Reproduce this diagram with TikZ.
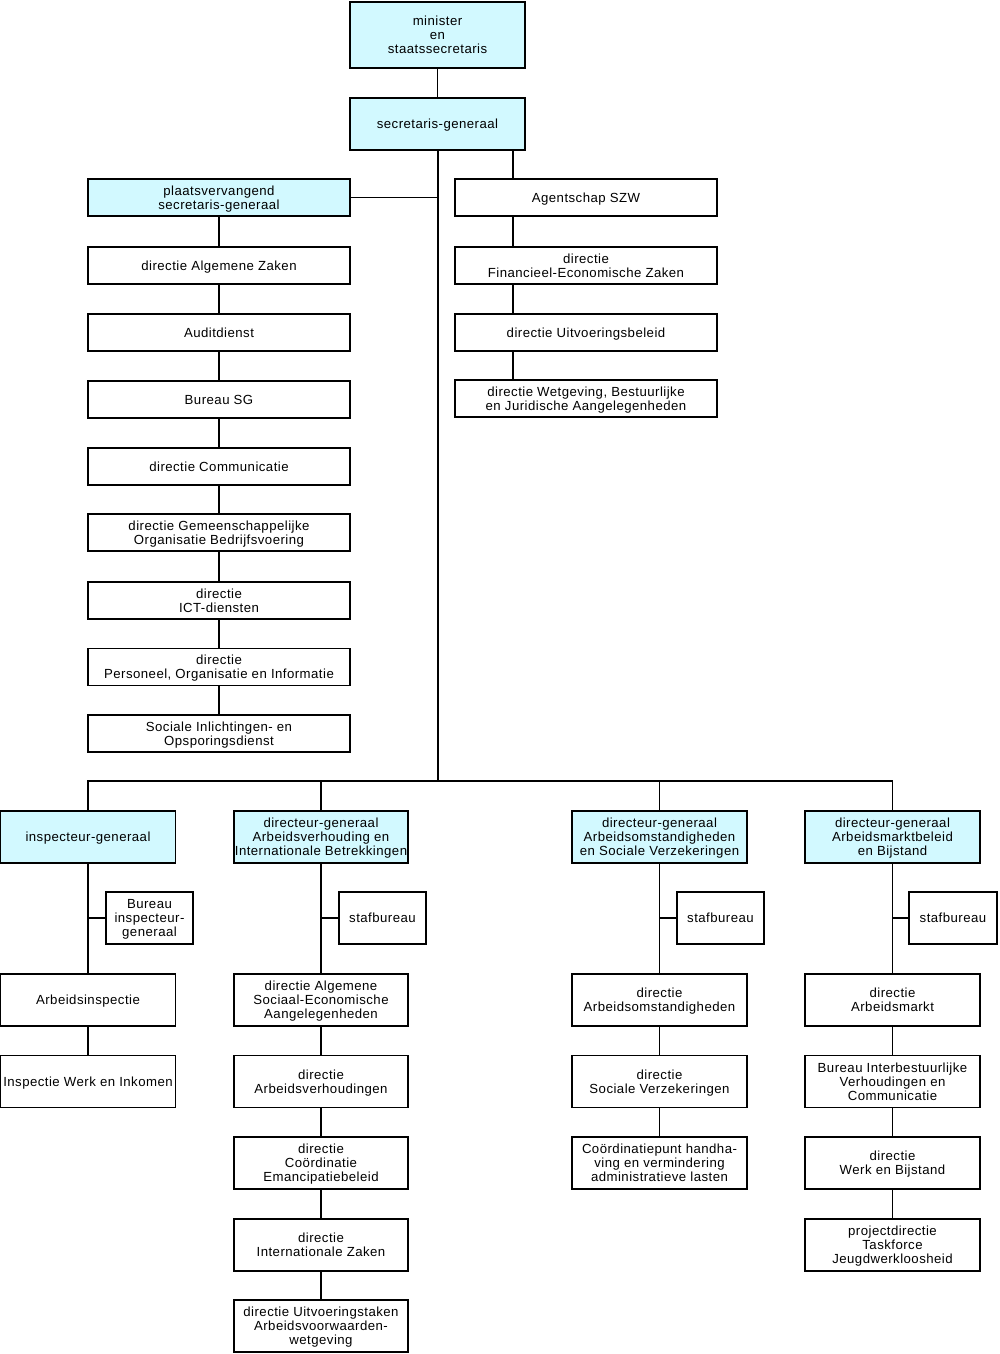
\documentclass[tikz,border=0pt]{standalone}
\usepackage{fontspec}
\setmainfont{Liberation Sans}[LetterSpace=3.5]
\definecolor{headcyan}{RGB}{210,249,255}
\newcommand\orgfont{\fontsize{13.2}{14}\selectfont}
\begin{document}
\begin{tikzpicture}[x=1pt,y=-1pt,font=\orgfont,line join=miter,
	box/.style={draw,line width=1.8pt,inner sep=0pt,align=center,fill=white,text depth=0pt},
	head/.style={box,fill=headcyan},
	wbox/.style={box,minimum width=262pt,minimum height=37pt},
	cbox/.style={box,minimum width=175pt,minimum height=52pt},
	sbox/.style={box,minimum width=87pt,minimum height=52pt},
	link/.style={line width=1.8pt}]
	\useasboundingbox (0,0) rectangle (999,1354);
	% top
	\path (437.5,35)node[head,minimum width=175pt,minimum height=66pt](m){minister\\en\\staatssecretaris}
	(437.5,124)node[head,minimum width=175pt,minimum height=52pt](sg){secretaris-generaal};
	% left column
	\path (219,197.5)node[wbox,head](p){plaatsvervangend\\secretaris-generaal}
	(219,265.5)node[wbox](p1){directie Algemene Zaken}
	(219,332.5)node[wbox](p2){Auditdienst}
	(219,399.5)node[wbox](p3){Bureau SG}
	(219,466.5)node[wbox](p4){directie Communicatie}
	(219,532.5)node[wbox](p5){directie Gemeenschappelijke\\Organisatie Bedrijfsvoering}
	(219,600.5)node[wbox](p6){directie\\ICT-diensten}
	(219,667)node[wbox](p7){directie\\Personeel, Organisatie en Informatie}
	(219,733.5)node[wbox](p8){Sociale Inlichtingen- en\\Opsporingsdienst};
	% right column
	\coordinate (qs) at (513,0);
	\path (586,197.5)node[wbox](q){Agentschap SZW}
	(586,265.5)node[wbox](q1){directie\\Financieel-Economische Zaken}
	(586,332.5)node[wbox](q2){directie Uitvoeringsbeleid}
	(586,398.5)node[wbox](q3){directie Wetgeving, Bestuurlijke\\en Juridische Aangelegenheden};
	% directoraten-generaal
	\coordinate (bus) at (438,781);
	\path (88,837)node[cbox,head](d1){inspecteur-generaal}
	(321,837)node[cbox,head,minimum width=174pt](d2){directeur-generaal\\Arbeidsverhouding en\\Internationale Betrekkingen}
	(659.5,837)node[cbox,head](d3){directeur-generaal\\Arbeidsomstandigheden\\en Sociale Verzekeringen}
	(892.5,837)node[cbox,head](d4){directeur-generaal\\Arbeidsmarktbeleid\\en Bijstand};
	\path (149.5,918)node[sbox](d1s){Bureau\\inspecteur-\\generaal}
	(382.5,918)node[sbox](d2s){stafbureau}
	(720.5,918)node[sbox](d3s){stafbureau}
	(953,918)node[sbox,minimum width=88pt](d4s){stafbureau};
	\path (88,1000)node[cbox](d11){Arbeidsinspectie}
	(88,1081.5)node[cbox](d12){Inspectie Werk en Inkomen};
	\path (321,1000)node[cbox,minimum width=174pt](d21){directie Algemene\\Sociaal-Economische\\Aangelegenheden}
	(321,1081.5)node[cbox,minimum width=174pt](d22){directie\\Arbeidsverhoudingen}
	(321,1163)node[cbox,minimum width=174pt](d23){directie\\Coördinatie\\Emancipatiebeleid}
	(321,1245)node[cbox,minimum width=174pt](d24){directie\\Internationale Zaken}
	(321,1326)node[cbox,minimum width=174pt](d25){directie Uitvoeringstaken\\Arbeidsvoorwaarden-\\wetgeving};
	\path (659.5,1000)node[cbox](d31){directie\\Arbeidsomstandigheden}
	(659.5,1081.5)node[cbox](d32){directie\\Sociale Verzekeringen}
	(659.5,1163)node[cbox](d33){Coördinatiepunt handha-\\ving en vermindering\\administratieve lasten};
	\path (892.5,1000)node[cbox](d41){directie\\Arbeidsmarkt}
	(892.5,1081.5)node[cbox](d42){Bureau Interbestuurlijke\\Verhoudingen en\\Communicatie}
	(892.5,1163)node[cbox](d43){directie\\Werk en Bijstand}
	(892.5,1245)node[cbox](d44){projectdirectie\\Taskforce\\Jeugdwerkloosheid};
	% connectors
	\draw[link](m.south)--(sg.north);
	\draw[link](sg.south-|bus)--(bus);
	\draw[link](p.east)--(p.east-|bus);
	\draw[link](p.south)--(p1.north) (p1.south)--(p2.north) (p2.south)--(p3.north)
	(p3.south)--(p4.north) (p4.south)--(p5.north) (p5.south)--(p6.north)
	(p6.south)--(p7.north) (p7.south)--(p8.north);
	\draw[link](sg.south-|qs)--(q.north-|qs) (q.south-|qs)--(q1.north-|qs)
	(q1.south-|qs)--(q2.north-|qs) (q2.south-|qs)--(q3.north-|qs);
	\draw[link](d1.north)--(d1.north|-bus)--(d4.north|-bus)--(d4.north);
	\draw[link](d2.north)--(d2.north|-bus) (d3.north)--(d3.north|-bus);
	\draw[link](d1.south)--(d11.north) (d11.south)--(d12.north)
	(d1s.west)--(d1s.west-|d1.south);
	\draw[link](d2.south)--(d21.north) (d21.south)--(d22.north) (d22.south)--(d23.north)
	(d23.south)--(d24.north) (d24.south)--(d25.north) (d2s.west)--(d2s.west-|d2.south);
	\draw[link](d3.south)--(d31.north) (d31.south)--(d32.north) (d32.south)--(d33.north)
	(d3s.west)--(d3s.west-|d3.south);
	\draw[link](d4.south)--(d41.north) (d41.south)--(d42.north) (d42.south)--(d43.north)
	(d43.south)--(d44.north) (d4s.west)--(d4s.west-|d4.south);
\end{tikzpicture}
\end{document}
